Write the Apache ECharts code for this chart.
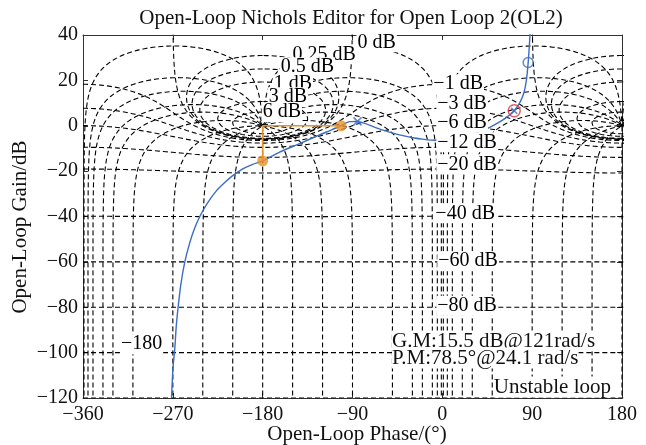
<!DOCTYPE html>
<html>
<head>
<meta charset="utf-8">
<script src="https://cdn.jsdelivr.net/npm/echarts@6/dist/echarts.min.js"></script>
<style>
html,body{margin:0;padding:0;background:#fff}
#chart{width:646px;height:445px}
</style>
</head>
<body>
<div id="chart"></div>
<script>
// Axis ranges and tick spacing
const phaseTicks = [-360, -270, -180, -90, 0, 90, 180];
const gainTicks = [-120, -100, -80, -60, -40, -20, 0, 20, 40];

// Nichols grid: closed-loop gain contours (dB) and closed-loop phase contours (deg)
const closedLoopGainDb = [6, 3, 1, 0.5, 0.25, 0, -1, -3, -6, -12, -20, -40, -60, -80, -100, -120];
const closedLoopPhaseDeg = [1, 5, 10, 20, 30, 50, 90, 120, 150, 180];

// Grid contour labels: text and anchor (phase deg, gain dB)
const gridLabelText  = ['0 dB', '0.25 dB', '0.5 dB', '1 dB', '3 dB', '6 dB',
                        '\u22121 dB', '\u22123 dB', '\u22126 dB', '\u221212 dB', '\u221220 dB',
                        '\u221240 dB', '\u221260 dB', '\u221280 dB', '\u2212180'];
const gridLabelPhase = [-86, -151, -163, -170, -175, -181, -10, -6, -6, -6, -6, -8, -5, -6, -323];
const gridLabelGain  = [36.8, 31.5, 25.8, 18.3, 12.6, 6.0, 18.3, 9.9, 1.5, -7.3, -17.0, -38.6, -59.7, -79.3, -96.3];

// Open-loop frequency response (phase deg, gain dB)
const loopPhase = [-271.3, -270.5, -269.5, -268, -266.5, -264.7, -262, -258, -253, -248, -243, -236,
                   -226, -218, -210, -200, -190, -180, -163, -143, -123, -112, -101.5, -93, -85,
                   -77, -70, -62, -53, -44, -36, -28, -20, -8, 5, 18, 28, 37, 47, 57, 64, 72, 78,
                   82, 84.5, 86, 87, 87.8, 88.3];
const loopGain  = [-120, -112, -105, -98, -88, -80, -70, -60, -51.5, -45, -40, -34.5,
                   -28.5, -25, -22, -19, -17, -15.5, -11.6, -7.9, -4.0, -2.0, 0, 1.8, 1.9,
                   0.9, -0.3, -1.6, -2.8, -3.9, -4.7, -5.4, -5.9, -6.4, -6.3, -5.5, -4.2, -2.6, -0.8, 1.6, 3.6, 6.6, 10.5,
                   15, 21, 27.9, 34, 40, 45];

// Open-loop poles / zeros and the highlighted pole
const polePhase = [-85], poleGain = [1.9];
const zeroPhase = [86], zeroGain = [27.9];
const flaggedPolePhase = [72], flaggedPoleGain = [6.6];

// Stability margins
const gainMarginDb = 15.5, gainMarginFreq = 121;
const phaseMarginDeg = 78.5, phaseMarginFreq = 24.1;

const FONT = '"Liberation Serif", "Times New Roman", serif';
const GRID_COLOR = '#000';
const BLUE = '#3b6dc3';
const ORANGE = '#e8922c';

function cdiv(a, b, c, d) {
  const den = c * c + d * d;
  return [(a * c + b * d) / den, (b * c - a * d) / den];
}
function toNichols(re, im) {
  let ph = Math.atan2(im, re) * 180 / Math.PI;
  if (ph > 0) ph -= 360;
  return [ph, 10 * Math.log10(re * re + im * im)];
}

// closed-loop magnitude contour: T = m e^{j psi}, L = T / (1 - T)
function gainContour(db) {
  const m = Math.pow(10, db / 20);
  const psi = [];
  for (let k = 0; k <= 40; k++) psi.push(-360 + Math.pow(10, -3 + 3 * k / 40));
  for (let p = -358.5; p <= -1.5; p += 0.5) psi.push(p);
  for (let k = 40; k >= 0; k--) psi.push(-Math.pow(10, -3 + 3 * k / 40));
  return psi.map(p => {
    const r = p * Math.PI / 180;
    const a = m * Math.cos(r), b = m * Math.sin(r);
    const L = cdiv(a, b, 1 - a, -b);
    return toNichols(L[0], L[1]);
  });
}

// closed-loop phase contour: T = t e^{j phi}, t from 0 to infinity
function phaseContour(phi) {
  const lt = [];
  for (let x = -7; x < -0.5; x += 0.02) lt.push(x);
  for (let x = -0.5; x < -0.05; x += 0.002) lt.push(x);
  for (let x = -0.05; x < 0.05; x += 0.0002) lt.push(x);
  for (let x = 0.05; x < 0.5; x += 0.002) lt.push(x);
  for (let x = 0.5; x <= 7; x += 0.02) lt.push(x);
  const r = phi * Math.PI / 180;
  return lt.map(x => {
    const t = Math.pow(10, x);
    const a = t * Math.cos(r), b = t * Math.sin(r);
    const L = cdiv(a, b, 1 - a, -b);
    return toNichols(L[0], L[1]);
  });
}

const gridSeries = [];
function addContour(pts) {
  [0, 360].forEach(shift => {
    gridSeries.push({
      type: 'line',
      data: pts.map(p => [p[0] + shift, p[1]]),
      showSymbol: false, symbol: 'none', silent: true, clip: true,
      lineStyle: { color: GRID_COLOR, width: 1.1, type: [5, 3] },
      z: 1
    });
  });
}
closedLoopGainDb.forEach(db => addContour(gainContour(db)));
closedLoopPhaseDeg.forEach(ph => {
  addContour(phaseContour(-ph));
  if (ph !== 180) addContour(phaseContour(ph));
});

const gmPoint = [-180, -gainMarginDb];
const pmPoint = [-180 + phaseMarginDeg, 0];

const crossPath = 'path://M0,0L10,10M10,0L0,10';
const minusFmt = v => String(v).replace('-', '\u2212');

function axisBase(extra) {
  return Object.assign({
    type: 'value',
    axisLine: { show: true, onZero: false, lineStyle: { color: '#333', width: 1 } },
    axisTick: { show: true, inside: true, length: 5, lineStyle: { color: '#333' } },
    splitLine: { show: false }
  }, extra);
}
const xRange = { min: phaseTicks[0], max: phaseTicks[phaseTicks.length - 1], interval: 90 };
const yRange = { min: gainTicks[0], max: gainTicks[gainTicks.length - 1], interval: 20 };

const fixedText = [
  { type: 'text', x: 20, y: 227, rotation: Math.PI / 2,
    style: { text: 'Open-Loop Gain/dB', font: '21px ' + FONT, fill: '#111', textAlign: 'center', textVerticalAlign: 'middle' } },
  { type: 'text', x: 357, y: 434,
    style: { text: 'Open-Loop Phase/(\u00b0)', font: '21px ' + FONT, fill: '#111', textAlign: 'center', textVerticalAlign: 'middle' } },
  { type: 'text', x: 392, y: 341, z: 20,
    style: { text: 'G.M:' + gainMarginDb + ' dB@' + gainMarginFreq + 'rad/s', font: '21px ' + FONT, fill: '#111', textVerticalAlign: 'middle',
             backgroundColor: '#fff' } },
  { type: 'text', x: 392, y: 358, z: 20,
    style: { text: 'P.M:' + phaseMarginDeg + '\u00b0@' + phaseMarginFreq + ' rad/s', font: '21px ' + FONT, fill: '#111', textVerticalAlign: 'middle',
             backgroundColor: '#fff' } },
  { type: 'text', x: 611, y: 387, z: 20,
    style: { text: 'Unstable loop', font: '21px ' + FONT, fill: '#111', textAlign: 'right', textVerticalAlign: 'middle',
             backgroundColor: '#fff' } }
];

const option = {
  animation: false,
  backgroundColor: '#fff',
  textStyle: { fontFamily: FONT },
  title: {
    text: 'Open-Loop Nichols Editor for Open Loop 2(OL2)',
    left: 346, top: 3, textAlign: 'center',
    textStyle: { fontFamily: FONT, fontSize: 21, fontWeight: 'normal', color: '#111' }
  },
  grid: { left: 83, top: 35, width: 539, height: 363 },
  xAxis: [
    axisBase(Object.assign({ position: 'bottom',
      axisLabel: { fontFamily: FONT, fontSize: 20, color: '#111', margin: 7, formatter: minusFmt } }, xRange)),
    axisBase(Object.assign({ position: 'top', axisLabel: { show: false } }, xRange))
  ],
  yAxis: [
    axisBase(Object.assign({ position: 'left',
      axisLabel: { fontFamily: FONT, fontSize: 20, color: '#111', margin: 5, formatter: minusFmt } }, yRange)),
    axisBase(Object.assign({ position: 'right', axisLabel: { show: false } }, yRange))
  ],
  graphic: fixedText,
  series: gridSeries.concat([
    {
      type: 'line', name: 'response',
      data: loopPhase.map((p, i) => [p, loopGain[i]]),
      smooth: 0.25, showSymbol: false, symbol: 'none', clip: true,
      lineStyle: { color: BLUE, width: 1.4 }, z: 3
    },
    {
      type: 'line', name: 'margins',
      data: [gmPoint, [-180, 0], pmPoint],
      showSymbol: false, symbol: 'none',
      lineStyle: { color: ORANGE, width: 1.6 }, z: 4
    },
    {
      type: 'scatter', data: [gmPoint, pmPoint], symbol: 'circle', symbolSize: 11,
      itemStyle: { color: ORANGE }, z: 5
    },
    {
      type: 'scatter', data: polePhase.map((p, i) => [p, poleGain[i]]), symbol: crossPath, symbolSize: 8,
      itemStyle: { color: 'none', borderColor: BLUE, borderWidth: 1.6 }, z: 5
    },
    {
      type: 'scatter', data: flaggedPolePhase.map((p, i) => [p, flaggedPoleGain[i]]), symbol: crossPath, symbolSize: 6,
      itemStyle: { color: 'none', borderColor: BLUE, borderWidth: 1.6 }, z: 5
    },
    {
      type: 'scatter', data: flaggedPolePhase.map((p, i) => [p, flaggedPoleGain[i]]), symbol: 'circle', symbolSize: 12,
      itemStyle: { color: 'rgba(0,0,0,0)', borderColor: '#e2323e', borderWidth: 1.5 }, z: 5
    },
    {
      type: 'scatter', data: zeroPhase.map((p, i) => [p, zeroGain[i]]), symbol: 'circle', symbolSize: 10,
      itemStyle: { color: 'rgba(0,0,0,0)', borderColor: BLUE, borderWidth: 1.5 }, z: 5
    }
  ])
};

const chart = echarts.init(document.getElementById('chart'), null, { renderer: 'canvas' });
chart.setOption(option);

// contour labels placed through the axis scales, over the grid with an opaque backing
const contourLabels = gridLabelText.map((txt, i) => {
  const px = chart.convertToPixel({ xAxisIndex: 0, yAxisIndex: 0 }, [gridLabelPhase[i], gridLabelGain[i]]);
  return {
    type: 'text', x: px[0], y: px[1], z: 15,
    style: { text: txt, font: '20px ' + FONT, fill: '#000', textAlign: 'left', textVerticalAlign: 'middle',
             backgroundColor: '#fff', padding: [0, 1, 0, 1] }
  };
});
chart.setOption({ graphic: fixedText.concat(contourLabels) });
</script>
</body>
</html>
